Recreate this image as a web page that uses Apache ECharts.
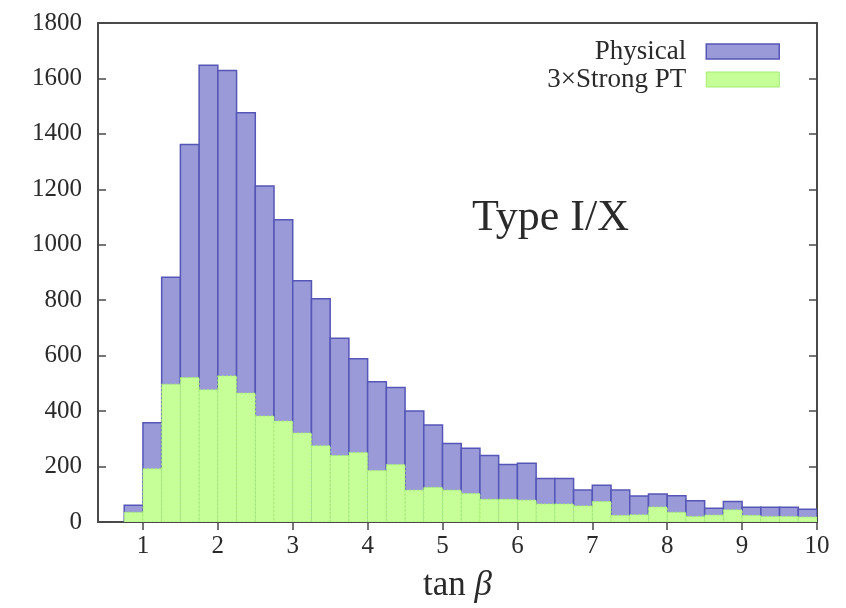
<!DOCTYPE html>
<html>
<head>
<meta charset="utf-8">
<title>Type I/X tan beta</title>
<script src="https://cdn.jsdelivr.net/npm/echarts@6/dist/echarts.min.js"></script>
<style>
html, body { margin: 0; padding: 0; background: #fff; }
#chart { width: 846px; height: 608px; }
</style>
</head>
<body>
<div id="chart"></div>
<script>
// lower edge of every tan(beta) bin, bins are 0.25 wide
var binStarts = [0.75, 1.00, 1.25, 1.50, 1.75, 2.00, 2.25, 2.50, 2.75, 3.00, 3.25, 3.50, 3.75,
  4.00, 4.25, 4.50, 4.75, 5.00, 5.25, 5.50, 5.75, 6.00, 6.25, 6.50, 6.75, 7.00, 7.25, 7.50,
  7.75, 8.00, 8.25, 8.50, 8.75, 9.00, 9.25, 9.50, 9.75]
var binWidth = 0.25
var physical = [60, 358, 883, 1362, 1648, 1629, 1476, 1212, 1090, 870, 805, 663, 589, 506, 485,
  400, 350, 283, 266, 240, 207, 212, 157, 157, 115, 133, 115, 94, 101, 95, 77, 50, 74, 53, 53, 53, 46]
// strong PT counts, already multiplied by 3
var strongPT = [35, 192, 497, 521, 477, 527, 465, 382, 364, 321, 275, 240, 251, 186, 207,
  115, 125, 115, 103, 82, 82, 79, 65, 65, 58, 74, 24, 26, 54, 35, 20, 25, 44, 24, 20, 20, 18]
var xTicks = [1, 2, 3, 4, 5, 6, 7, 8, 9, 10]

var serif = 'Liberation Serif'
var blueStyle = { fill: '#9a9ad8', stroke: '#5656b8', lineWidth: 1.5 }
var greenStyle = { fill: '#c6ff98', stroke: '#a2ec72', lineWidth: 1, lineDash: [2, 2] }

function binData(values) {
  return binStarts.map(function (s, i) {
    return [s, s + binWidth, values[i]]
  })
}

function makeRender(style) {
  return function (params, api) {
    var top = api.coord([api.value(0), api.value(2)])
    var base = api.coord([api.value(1), 0])
    return {
      type: 'rect',
      shape: { x: top[0], y: top[1], width: base[0] - top[0], height: base[1] - top[1] },
      style: style
    }
  }
}

var chart = echarts.init(document.getElementById('chart'))
chart.setOption({
  animation: false,
  backgroundColor: '#fff',
  grid: {
    left: 98, right: 29, top: 23, bottom: 79,
    show: true, borderColor: '#4a4a4a', borderWidth: 2
  },
  legend: {
    orient: 'vertical',
    align: 'right',
    right: 61,
    top: 33,
    itemWidth: 73,
    itemHeight: 15,
    itemGap: 1,
    textStyle: { fontFamily: serif, fontSize: 27, color: '#2a2a2a', lineHeight: 26, padding: [0, 15, 0, 0] },
    data: [
      { name: 'Physical', icon: 'rect', itemStyle: { color: '#9a9ad8', borderColor: '#5656b8', borderWidth: 1.5 } },
      { name: '3×Strong PT', icon: 'rect', itemStyle: { color: '#c6ff98', borderColor: '#a2ec72', borderWidth: 1 } }
    ]
  },
  graphic: [{
    type: 'text',
    left: 472,
    top: 196,
    style: { text: 'Type I/X', font: '44px "Liberation Serif"', fill: '#2a2a2a' }
  }],
  xAxis: [{
    type: 'value',
    min: 0.4,
    max: 10,
    position: 'bottom',
    axisLine: { show: false },
    splitLine: { show: false },
    axisTick: { inside: true, length: 8, customValues: xTicks, lineStyle: { color: '#4a4a4a', width: 1.5 } },
    axisLabel: { customValues: xTicks, margin: 12, fontFamily: serif, fontSize: 25, color: '#2a2a2a' },
    name: '{t|tan }{b|β}',
    nameLocation: 'middle',
    nameGap: 46,
    nameTextStyle: {
      rich: {
        t: { fontFamily: serif, fontSize: 35, color: '#2a2a2a' },
        b: { fontFamily: serif, fontSize: 35, fontStyle: 'italic', color: '#2a2a2a' }
      }
    }
  }, {
    type: 'value',
    min: 0.4,
    max: 10,
    position: 'top',
    axisLine: { show: false },
    splitLine: { show: false },
    axisTick: { inside: true, length: 8, customValues: xTicks, lineStyle: { color: '#4a4a4a', width: 1.5 } },
    axisLabel: { show: false }
  }],
  yAxis: [{
    type: 'value',
    min: 0,
    max: 1800,
    interval: 200,
    axisLine: { show: false },
    splitLine: { show: false },
    axisTick: { inside: true, length: 8, lineStyle: { color: '#4a4a4a', width: 1.5 } },
    axisLabel: {
      margin: 16, fontFamily: serif, fontSize: 25, color: '#2a2a2a',
      formatter: function (v) { return String(v) }
    }
  }, {
    type: 'value',
    min: 0,
    max: 1800,
    interval: 200,
    position: 'right',
    axisLine: { show: false },
    splitLine: { show: false },
    axisTick: { inside: true, length: 8, lineStyle: { color: '#4a4a4a', width: 1.5 } },
    axisLabel: { show: false }
  }],
  series: [
    {
      name: 'Physical',
      type: 'custom',
      clip: true,
      itemStyle: { color: '#9a9ad8' },
      renderItem: makeRender(blueStyle),
      encode: { x: [0, 1], y: 2 },
      data: binData(physical),
      z: 2
    },
    {
      name: '3×Strong PT',
      type: 'custom',
      clip: true,
      itemStyle: { color: '#c6ff98' },
      renderItem: makeRender(greenStyle),
      encode: { x: [0, 1], y: 2 },
      data: binData(strongPT),
      z: 3
    }
  ]
})
</script>
</body>
</html>
